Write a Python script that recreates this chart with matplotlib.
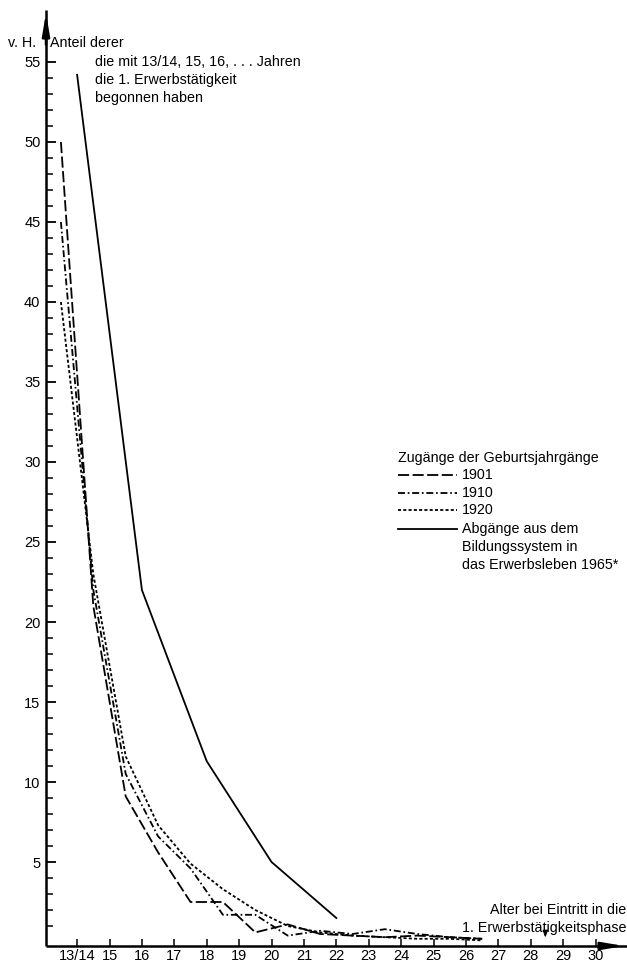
import matplotlib
matplotlib.use('Agg')
import matplotlib.pyplot as plt
from matplotlib.lines import Line2D
from matplotlib.ticker import FixedLocator

plt.rcParams['font.family'] = ['Liberation Sans', 'DejaVu Sans']
plt.rcParams['lines.scale_dashes'] = False

# Geburtsjahrgänge: Werte jeweils in der Mitte des Altersjahres (13/14 -> 13.5)
alter_kohorte = [13.5, 14.5, 15.5, 16.5, 17.5, 18.5, 19.5, 20.5, 21.5, 22.5, 23.5, 24.5, 25.5, 26.5]
anteil_1901 = [50, 21, 9.1, 5.6, 2.5, 2.5, 0.6, 1.1, 0.5, 0.4, 0.3, 0.4, 0.3, 0.2]
anteil_1910 = [45, 22, 10.5, 6.6, 4.6, 1.7, 1.7, 0.4, 0.7, 0.5, 0.8, 0.5, 0.3, 0.2]
anteil_1920 = [40, 23, 11.6, 7.3, 4.9, 3.3, 2.0, 1.0, 0.6, 0.4, 0.3, 0.2, 0.2, 0.1]

# Abgänge aus dem Bildungssystem 1965
alter_1965 = [14, 16, 18, 20, 22]
anteil_1965 = [54.2, 22, 11.3, 5.0, 1.5]

x_ticks = list(range(14, 31))
x_labels = ['13/14'] + [str(a) for a in range(15, 31)]
y_ticks = list(range(5, 56, 5))
y_minor = [v for v in range(1, 55) if v % 5 != 0]

W, H = 627, 965
fig = plt.figure(figsize=(W / 100, H / 100), dpi=100)
ax = fig.add_axes([46 / W, 19 / H, (627 - 46) / W, (946 - 10) / H])
ax.set_xlim(13.04, 30.97)
ax.set_ylim(-0.25, 58.25)

lw = 1.3
ax.plot(alter_kohorte, anteil_1901, color='k', lw=lw, dashes=(8, 2.5))
ax.plot(alter_kohorte, anteil_1910, color='k', lw=lw, dashes=(5, 2, 1.2, 2))
ax.plot(alter_kohorte, anteil_1920, color='k', lw=lw, dashes=(2.2, 1.6))
ax.plot(alter_1965, anteil_1965, color='k', lw=lw)

# Achsen
for s in ['top', 'right']:
    ax.spines[s].set_visible(False)
for s in ['left', 'bottom']:
    ax.spines[s].set_linewidth(1.8)
    ax.spines[s].set_capstyle('butt')
pfeil = dict(arrowstyle='-|>,head_length=1.3,head_width=0.22', color='k', lw=1.8)
ax.annotate('', xy=(0, 1.0), xytext=(0, 0.96), xycoords='axes fraction', arrowprops=pfeil)
ax.annotate('', xy=(1.0, 0), xytext=(0.95, 0), xycoords='axes fraction', arrowprops=pfeil)

ax.set_yticks(y_ticks)
ax.yaxis.set_minor_locator(FixedLocator(y_minor))
ax.set_xticks(x_ticks)
ax.set_xticklabels(x_labels)
ax.tick_params(axis='y', which='major', direction='in', length=7, width=1.3, labelsize=10.5, pad=4)
ax.tick_params(axis='y', which='minor', direction='in', length=5, width=1.1)
ax.tick_params(axis='x', which='major', direction='in', length=5, width=1.1, labelsize=10.5, pad=2.5)

# Texte (Pixelkoordinaten umrechnen)
def txt(x, y, s, **kw):
    fig.text(x / W, 1 - y / H, s, fontsize=10.3, va='center', **kw)

txt(8, 43, 'v. H.')
txt(50, 43, 'Anteil derer')
txt(95, 62, 'die mit 13/14, 15, 16, . . . Jahren')
txt(95, 80, 'die 1. Erwerbstätigkeit')
txt(95, 98, 'begonnen haben')

txt(626, 910, 'Alter bei Eintritt in die', ha='right')
txt(626, 928, '1. Erwerbstätigkeitsphase', ha='right')
ax.annotate('', xy=(28.45, 0.1), xytext=(28.45, 0.9),
            arrowprops=dict(arrowstyle='-|>,head_length=0.4,head_width=0.15', color='k', lw=0.9))

# Legende
txt(398, 458, 'Zugänge der Geburtsjahrgänge')
legende = [(475, '1901', (8, 2.5)), (493, '1910', (5, 2, 1.2, 2)), (510, '1920', (2.2, 1.6)),
           (529, 'Abgänge aus dem', None)]
for y, lab, d in legende:
    ln = Line2D([398 / W, 457 / W], [1 - y / H, 1 - y / H], transform=fig.transFigure, color='k', lw=lw)
    if d is not None:
        ln.set_dashes(d)
    fig.add_artist(ln)
    txt(462, y, lab)
txt(462, 547, 'Bildungssystem in')
txt(462, 565, 'das Erwerbsleben 1965*')

fig.savefig('out.png', dpi=100)
